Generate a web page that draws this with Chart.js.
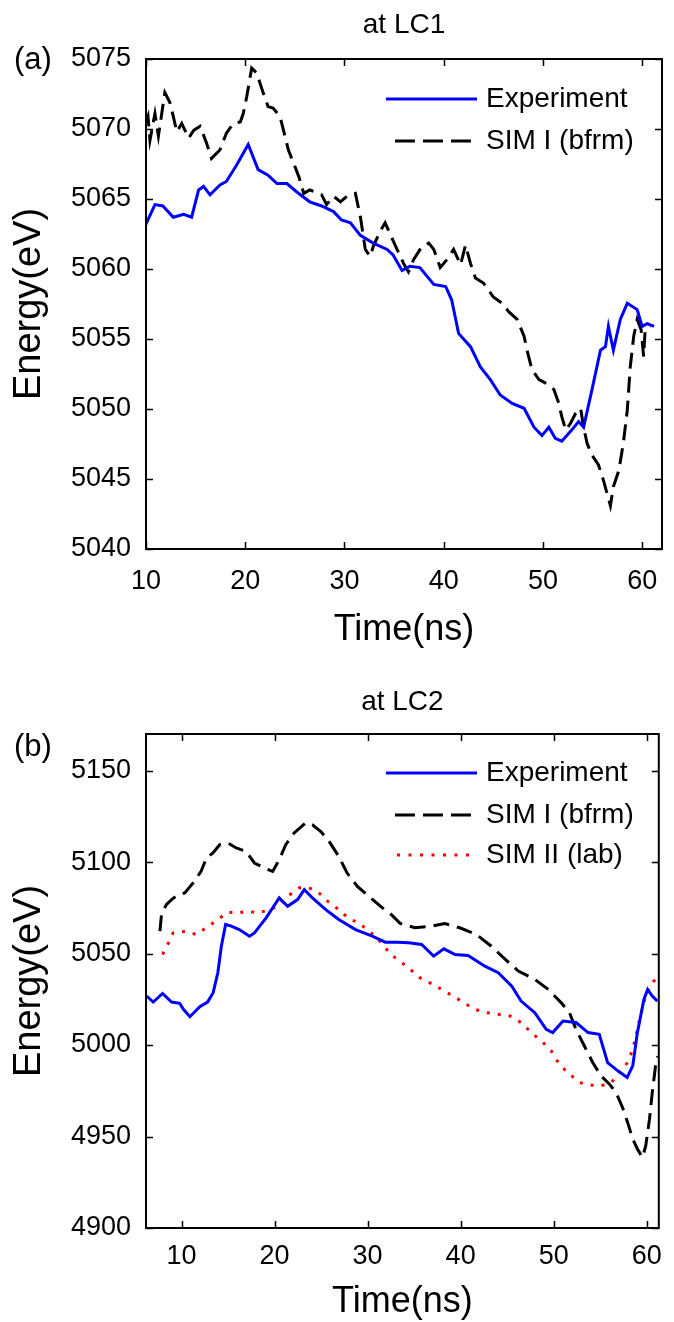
<!DOCTYPE html>
<html><head><meta charset="utf-8">
<script src="https://cdn.jsdelivr.net/npm/chart.js@4"></script>
<style>
html,body{margin:0;padding:0;background:#fff;}
#wrap{position:relative;width:674px;height:1322px;overflow:hidden;}
canvas{position:absolute;left:0;}
</style>
</head><body>
<div id="wrap">
<canvas id="ca" width="674" height="660" style="top:0px"></canvas>
<canvas id="cb" width="674" height="662" style="top:660px"></canvas>
</div>
<script>
// ---------------- DATA ----------------
// Panel (a) at LC1
const aExpTime   = [10.0,10.9,11.7,12.75,13.8,14.6,15.3,15.8,16.45,17.46,18.1,19.15,20.3,21.3,22.3,23.2,24.2,25.2,26.5,27.7,28.9,29.7,30.6,31.6,32.9,34.3,34.9,35.8,36.6,37.6,39.0,40.2,40.8,41.5,42.7,43.7,44.7,45.7,46.9,48.1,49.1,49.9,50.6,51.25,51.9,52.9,53.6,54.1,54.95,55.8,56.3,56.6,57.1,57.8,58.5,59.5,60.0,60.5,61.2];
const aExpEnergy = [5063.2,5064.6,5064.5,5063.7,5063.9,5063.7,5065.65,5065.9,5065.3,5066.0,5066.25,5067.45,5068.9,5067.1,5066.7,5066.1,5066.1,5065.5,5064.8,5064.5,5064.1,5063.5,5063.3,5062.4,5061.85,5061.4,5061.0,5059.9,5060.2,5060.1,5058.9,5058.75,5057.8,5055.4,5054.45,5053.0,5052.1,5051.0,5050.4,5050.05,5048.7,5048.1,5048.7,5047.9,5047.7,5048.5,5049.1,5048.7,5051.4,5054.2,5054.45,5055.9,5054.2,5056.4,5057.55,5057.1,5055.9,5056.1,5055.9];
const aSim1Time   = [10.0,10.2,10.4,10.9,11.25,11.9,12.4,12.75,13.1,13.6,14.3,14.8,15.45,16.1,16.6,17.45,18.1,18.8,19.5,19.8,20.15,20.65,21.15,21.8,22.3,22.8,23.5,24.0,24.35,24.85,25.4,25.9,26.5,27.7,28.2,28.9,29.6,30.25,31.1,31.6,32.1,32.6,32.9,33.6,34.1,34.6,35.3,35.95,36.45,36.95,37.8,38.5,39.0,39.65,40.3,41.0,41.7,42.2,42.7,43.2,44.0,45.0,45.9,46.55,47.4,48.1,48.4,48.9,49.6,50.4,51.1,51.6,51.9,52.3,52.8,53.3,53.8,54.1,54.45,54.95,55.6,56.1,56.45,56.8,57.1,57.65,58.1,58.5,58.8,59.15,59.5,59.9,60.15,60.3,60.8];
const aSim1Energy = [5070.5,5070.9,5069.2,5071.1,5069.5,5072.6,5071.9,5070.9,5069.8,5070.4,5069.35,5069.9,5070.2,5069.0,5067.9,5068.5,5069.7,5070.4,5070.5,5071.1,5072.3,5074.35,5074.0,5072.6,5071.6,5071.5,5070.9,5069.5,5068.5,5067.6,5066.6,5065.4,5065.65,5065.3,5064.6,5065.2,5064.8,5065.2,5065.4,5063.75,5061.4,5060.9,5061.6,5062.7,5063.3,5062.5,5061.4,5060.4,5059.8,5060.65,5061.6,5061.85,5061.4,5060.1,5060.65,5061.4,5060.3,5061.7,5060.4,5059.35,5059.0,5058.0,5057.55,5056.95,5056.4,5055.2,5054.2,5052.8,5052.1,5051.8,5051.4,5050.4,5049.45,5048.5,5049.0,5049.7,5050.05,5048.7,5047.55,5046.7,5046.0,5044.9,5044.0,5043.1,5044.45,5045.6,5047.55,5049.9,5053.0,5055.2,5056.4,5055.65,5053.75,5055.65,5055.9];
const aXTicks = [10,20,30,40,50,60];
const aYTicks = [5040,5045,5050,5055,5060,5065,5070,5075];

// Panel (b) at LC2
const bExpTime   = [6.25,6.96,7.96,8.93,9.8,10.2,10.9,11.96,12.8,13.4,13.9,14.28,14.74,15.35,16.2,17.3,17.84,19.09,20.5,21.4,22.47,23.2,24.07,25.5,26.9,28.7,30.5,31.9,33.2,34.4,35.8,37.1,38.2,39.4,40.8,42.6,44.04,45.5,46.5,47.97,49.2,49.9,51.0,52.4,53.7,54.9,55.8,56.9,57.9,58.5,59.0,59.7,60.1,60.6,61.15];
const bExpEnergy = [5026.8,5023.5,5028.2,5023.5,5022.8,5019.5,5015.5,5021.0,5023.5,5028.6,5039.5,5054.0,5065.9,5065.0,5063.1,5059.5,5061.3,5069.5,5080.4,5075.8,5079.5,5084.9,5080.4,5074.0,5068.6,5063.1,5059.5,5056.2,5056.2,5055.9,5055.0,5048.6,5052.6,5049.5,5049.0,5043.1,5039.5,5032.2,5024.0,5017.7,5008.6,5006.8,5013.1,5012.3,5006.8,5005.9,4990.4,4985.9,4982.3,4988.6,5006.8,5024.9,5030.4,5026.8,5024.0];
const bSim1Time   = [7.68,7.86,8.39,8.93,9.63,10.35,11.24,12.1,12.67,13.38,14.1,14.98,15.88,16.95,17.84,18.9,19.8,20.5,21.2,22.1,23.37,24.07,24.97,25.86,26.9,27.8,28.9,30.14,31.4,32.5,33.5,35.1,36.9,38.3,39.9,41.7,43.3,44.8,46.2,47.97,49.4,50.8,51.7,52.4,53.3,54.2,55.1,56.0,56.7,57.4,57.95,58.5,59.0,59.55,59.9,60.3,60.6,60.95,61.2];
const bSim1Energy = [5062.2,5072.2,5076.8,5079.5,5082.2,5083.1,5088.6,5094.9,5102.2,5105.0,5109.5,5110.4,5107.7,5105.8,5099.5,5096.8,5094.9,5101.3,5109.5,5115.9,5121.6,5120.4,5116.7,5111.3,5103.1,5094.0,5086.7,5081.3,5075.8,5071.5,5066.5,5064.1,5065.0,5066.4,5064.1,5060.4,5054.0,5046.8,5040.4,5035.9,5030.4,5023.2,5017.7,5008.6,4999.5,4990.4,4983.1,4978.6,4974.1,4965.9,4957.7,4948.6,4943.2,4938.6,4945.0,4959.5,4974.1,4988.6,4994.0];
const bSim2Time   = [7.96,8.56,9.1,10.5,11.6,12.8,13.9,14.98,16.05,17.1,18.2,19.26,20.3,21.4,22.65,23.7,24.6,25.7,26.9,27.99,29.07,30.14,30.85,31.9,32.5,33.7,34.8,35.84,37.1,38.2,39.2,40.3,41.55,42.8,44.04,45.3,46.5,47.6,48.85,49.74,50.6,51.7,52.8,53.85,55.1,56.2,57.2,57.95,58.5,59.0,59.4,59.9,60.6,61.15];
const bSim2Energy = [5049.5,5055.5,5061.3,5062.2,5060.4,5064.6,5068.6,5072.6,5072.2,5073.1,5072.2,5073.6,5075.8,5081.3,5085.9,5085.9,5084.0,5078.6,5074.0,5069.0,5066.8,5062.2,5059.5,5053.2,5049.5,5045.0,5040.4,5035.9,5033.1,5029.5,5026.8,5023.2,5019.5,5017.7,5016.8,5015.9,5012.3,5006.8,5001.4,4996.8,4989.5,4984.1,4979.5,4978.1,4977.7,4979.5,4985.9,4990.4,4997.7,5008.6,5017.7,5026.8,5034.1,5036.8];
const bXTicks = [10,20,30,40,50,60];
const bYTicks = [4900,4950,5000,5050,5100,5150];

// ---------------- DRAWING ----------------
const FONT = '"Liberation Sans", Arial, Helvetica, sans-serif';
const pts = (t, e) => t.map((v, i) => ({x: v, y: e[i]}));

const framePlugin = {
  id: 'frame',
  afterDatasetsDraw(chart) {
    const ctx = chart.ctx, a = chart.chartArea;
    const xs = chart.scales.x, ys = chart.scales.y;
    const TL = 7;
    ctx.save();
    ctx.strokeStyle = '#000';
    ctx.lineWidth = 1.5;
    ctx.beginPath();
    xs.ticks.forEach(t => {
      const p = Math.round(xs.getPixelForValue(t.value)) + 0.5;
      ctx.moveTo(p, a.bottom); ctx.lineTo(p, a.bottom - TL);
      ctx.moveTo(p, a.top); ctx.lineTo(p, a.top + TL);
    });
    ys.ticks.forEach(t => {
      const p = Math.round(ys.getPixelForValue(t.value)) + 0.5;
      ctx.moveTo(a.left, p); ctx.lineTo(a.left + TL, p);
      ctx.moveTo(a.right, p); ctx.lineTo(a.right - TL, p);
    });
    ctx.stroke();
    ctx.lineWidth = 2;
    ctx.strokeRect(a.left, a.top, a.right - a.left, a.bottom - a.top);
    ctx.restore();
  },
  afterDraw(chart, args, o) {
    const ctx = chart.ctx, a = chart.chartArea;
    ctx.save();
    ctx.fillStyle = '#000';
    ctx.textBaseline = 'middle';
    ctx.font = '28px ' + FONT;
    ctx.textAlign = 'center';
    ctx.fillText(o.title, (a.left + a.right) / 2, o.titleY);
    ctx.textAlign = 'left';
    ctx.font = '31px ' + FONT;
    ctx.fillText(o.tag, 14, o.tagY);
    // legend
    ctx.font = '28px ' + FONT;
    chart.data.datasets.forEach((ds, i) => {
      const y = o.legendY[i];
      ctx.save();
      ctx.strokeStyle = ds.borderColor;
      ctx.lineWidth = 3;
      ctx.setLineDash(ds.legendDash || []);
      ctx.beginPath();
      ctx.moveTo(ds.legendStart, y); ctx.lineTo(477, y);
      ctx.stroke();
      ctx.restore();
      ctx.fillText(ds.label, 486, y);
    });
    ctx.restore();
  }
};

function makePanel(id, cfg) {
  const tickFont = {family: FONT, size: 27};
  return new Chart(document.getElementById(id), {
    type: 'line',
    data: {datasets: cfg.datasets},
    options: {
      responsive: false,
      animation: false,
      devicePixelRatio: 1,
      layout: {padding: {left: 0, right: 12, top: cfg.top, bottom: 0}},
      plugins: {
        legend: {display: false},
        tooltip: {enabled: false},
        frame: {title: cfg.title, titleY: cfg.titleY, tag: cfg.tag, tagY: cfg.tagY, legendY: cfg.legendY}
      },
      elements: {point: {radius: 0}, line: {tension: 0}},
      scales: {
        x: {
          type: 'linear', min: cfg.xmin, max: cfg.xmax,
          afterBuildTicks: s => { s.ticks = cfg.xTicks.map(v => ({value: v})); },
          grid: {display: false, drawTicks: false}, border: {display: false},
          ticks: {color: '#000', font: tickFont, padding: cfg.xPad, maxRotation: 0, autoSkip: false, callback: v => String(v)},
          title: {display: true, text: 'Time(ns)', color: '#000', font: {family: FONT, size: 36, lineHeight: 1}, padding: {top: 0, bottom: cfg.xTitlePad}},
          afterFit: s => { s.height = cfg.xHeight; }
        },
        y: {
          type: 'linear', min: cfg.ymin, max: cfg.ymax,
          afterBuildTicks: s => { s.ticks = cfg.yTicks.map(v => ({value: v})); },
          grid: {display: false, drawTicks: false}, border: {display: false},
          ticks: {color: '#000', font: tickFont, padding: 15, autoSkip: false, callback: v => String(v)},
          title: {display: true, text: 'Energy(eV)', color: '#000', font: {family: FONT, size: 38, lineHeight: 1}, padding: {top: 11, bottom: 0}},
          afterFit: s => { s.width = 146; }
        }
      }
    },
    plugins: [framePlugin]
  });
}

const expStyle  = {borderColor: '#0000ff', borderWidth: 3, legendStart: 386};
const sim1Style = {borderColor: '#000000', borderWidth: 3, borderDash: [16, 8], legendDash: [20, 8], legendStart: 395};
const sim2Style = {borderColor: '#ff0000', borderWidth: 3, borderDash: [3, 8], legendDash: [3, 8.5], legendStart: 397};

makePanel('ca', {
  title: 'at LC1', titleY: 25, tag: '(a)', tagY: 60, legendY: [99, 141],
  top: 59, xHeight: 111, xPad: 16, xTitlePad: 12,
  xmin: 10, xmax: 62, ymin: 5040, ymax: 5075, xTicks: aXTicks, yTicks: aYTicks,
  datasets: [
    Object.assign({label: 'Experiment', data: pts(aExpTime, aExpEnergy)}, expStyle),
    Object.assign({label: 'SIM I (bfrm)', data: pts(aSim1Time, aSim1Energy)}, sim1Style)
  ]
});

makePanel('cb', {
  title: 'at LC2', titleY: 42, tag: '(b)', tagY: 87, legendY: [113, 155, 195],
  top: 74, xHeight: 94, xPad: 12, xTitlePad: 2,
  xmin: 6.18, xmax: 61.3, ymin: 4900, ymax: 5170, xTicks: bXTicks, yTicks: bYTicks,
  datasets: [
    Object.assign({label: 'Experiment', data: pts(bExpTime, bExpEnergy)}, expStyle),
    Object.assign({label: 'SIM I (bfrm)', data: pts(bSim1Time, bSim1Energy)}, sim1Style),
    Object.assign({label: 'SIM II (lab)', data: pts(bSim2Time, bSim2Energy)}, sim2Style)
  ]
});
</script>
</body></html>
